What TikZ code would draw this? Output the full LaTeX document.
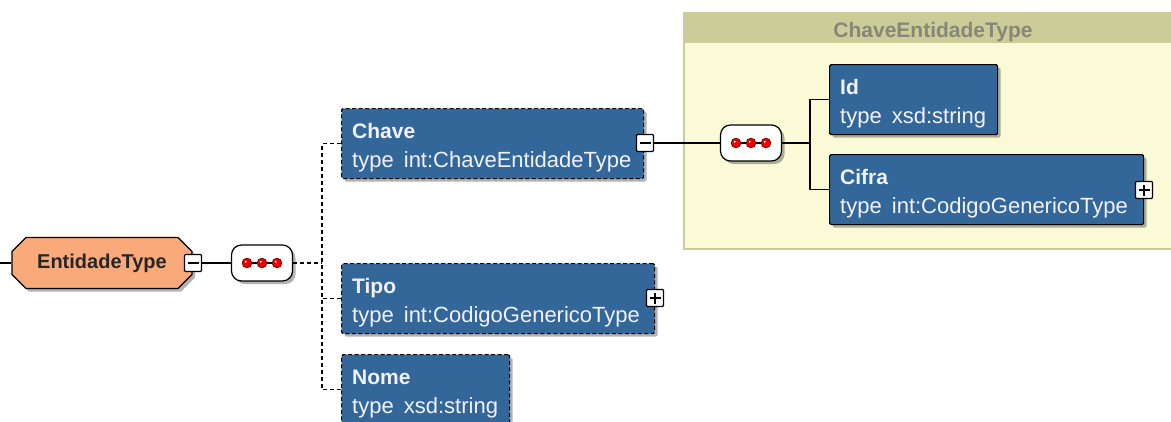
\documentclass[tikz,border=0pt]{standalone}
\usepackage{fontspec}
\setmainfont{Liberation Sans}
\usetikzlibrary{shadows,shapes.misc}

\definecolor{elemblue}{RGB}{51,102,153}
\definecolor{entorange}{RGB}{250,170,122}
\definecolor{grpbody}{RGB}{250,250,214}
\definecolor{grphead}{RGB}{204,204,153}
\definecolor{grptext}{RGB}{135,135,120}
\definecolor{dotred}{RGB}{240,0,0}

\tikzset{
    shade/.style={drop shadow={shadow xshift=3pt, shadow yshift=-3pt, opacity=.3, fill=black}},
    elem/.style={draw=black, fill=elemblue, line width=1.2pt, rounded corners=1.5pt,
        inner sep=0pt, anchor=north west, shade},
    opt/.style={elem, dash pattern=on 4pt off 2.5pt},
    req/.style={elem},
    elemtext/.style={anchor=base west, inner sep=0pt, text=white!95!blue, font=\fontsize{22}{26}\selectfont},
    signbox/.style={draw=black, fill=white, line width=1.2pt, minimum size=17pt,
        inner sep=0pt, rounded corners=1pt},
    minusbox/.style={signbox, path picture={
        \draw[line width=1.4pt] ([xshift=-5.5pt]path picture bounding box.center)
            -- ([xshift=5.5pt]path picture bounding box.center);}},
    plusbox/.style={signbox, path picture={
        \draw[line width=1.4pt] ([xshift=-5.5pt]path picture bounding box.center)
            -- ([xshift=5.5pt]path picture bounding box.center);
        \draw[line width=1.4pt] ([yshift=-5.5pt]path picture bounding box.center)
            -- ([yshift=5.5pt]path picture bounding box.center);}},
    seqbox/.style={draw=black, fill=white, line width=1.2pt, rounded corners=10pt,
        minimum width=61pt, minimum height=36pt, inner sep=0pt, shade},
    seqdot/.style={fill=dotred, draw=red!50!black, line width=0.8pt},
    conn/.style={line width=1.2pt},
    dconn/.style={conn, dash pattern=on 4pt off 3pt}
}

\begin{document}
\begin{tikzpicture}[x=1pt, y=-1pt]
    \useasboundingbox (0,0) rectangle (1171,421);
    \clip (0,0) rectangle (1171,421);

    % Grupo ChaveEntidadeType
    \node[draw=grphead, fill=grpbody, line width=1.5pt, anchor=north west,
        minimum width=500pt, minimum height=236pt, inner sep=0pt] (grp) at (683,12) {};
    \node[fill=grphead, anchor=north west, minimum width=500pt, minimum height=31pt,
        inner sep=0pt] (grphd) at (683,12) {};
    \node[anchor=base, inner sep=0pt, text=grptext, font=\fontsize{21}{25}\selectfont\bfseries]
        (grptitle) at (933,37) {ChaveEntidadeType};

    % Elemento raiz
    \coordinate (stub) at (0,263);
    \node[chamfered rectangle, chamfered rectangle xsep=7pt, chamfered rectangle ysep=7pt,
        draw=black, fill=entorange, line width=1.2pt, minimum width=180pt, minimum height=51pt,
        inner sep=0pt, text=black!85, font=\fontsize{20}{24}\selectfont\bfseries, shade]
        (ent) at (102,263) {EntidadeType};
    \node[minusbox] (entm) at (193,263) {};
    \node[seqbox] (seq1) at (262,263) {};

    % Elementos
    \foreach \name/\x/\y/\w/\kind/\title/\type in {
        chave/341/108/302/opt/Chave/int:ChaveEntidadeType,
        tipo/341/263/313/opt/Tipo/int:CodigoGenericoType,
        nome/341/354/168/opt/Nome/xsd:string,
        id/829/64/168/req/Id/xsd:string,
        cifra/829/154/314/req/Cifra/int:CodigoGenericoType
        } {
        \node[\kind, minimum width=\w, minimum height=70pt] (\name) at (\x,\y) {};
        \node[elemtext, font=\fontsize{21}{25}\selectfont\bfseries]
            (\name-t) at ([shift={(11,30)}]\name.north west) {\title};
        \node[elemtext] (\name-ty) at ([shift={(11,59)}]\name.north west) {type\hspace{4pt} \type};
    }
    \node[minusbox] (chavem) at (645,143) {};
    \node[plusbox] (tipop) at (655,298) {};
    \node[plusbox] (cifrap) at (1144,190) {};
    \node[seqbox] (seq2) at (751,143) {};

    % Sequencias
    \foreach \s in {seq1,seq2} {
        \draw[line width=1.6pt] ([xshift=-15]\s.center) -- ([xshift=15]\s.center);
        \foreach \dx in {-15,0,15} {
            \draw[seqdot] ([xshift=\dx]\s.center) circle (4.8pt);
            \fill[white] ([shift={(\dx-1.3,-1.3)}]\s.center) circle (1.1pt);
        }
    }

    % Ligacoes
    \coordinate (fork1) at (322,263);
    \coordinate (fork2) at (810,143);
    \draw[conn] (stub) -- (ent.west);
    \draw[conn] (entm.east) -- (seq1.west);
    \draw[dconn] (seq1.east) -- (fork1);
    \draw[dconn] (chave.west) -| (fork1);
    \draw[dconn] (nome.west) -| (fork1);
    \draw[dconn] (tipo.west) -- (tipo.west -| fork1);
    \draw[conn] (chavem.east) -- (seq2.west);
    \draw[conn] (seq2.east) -- (fork2);
    \draw[conn] (id.west) -| (fork2);
    \draw[conn] (cifra.west) -| (fork2);
\end{tikzpicture}
\end{document}
